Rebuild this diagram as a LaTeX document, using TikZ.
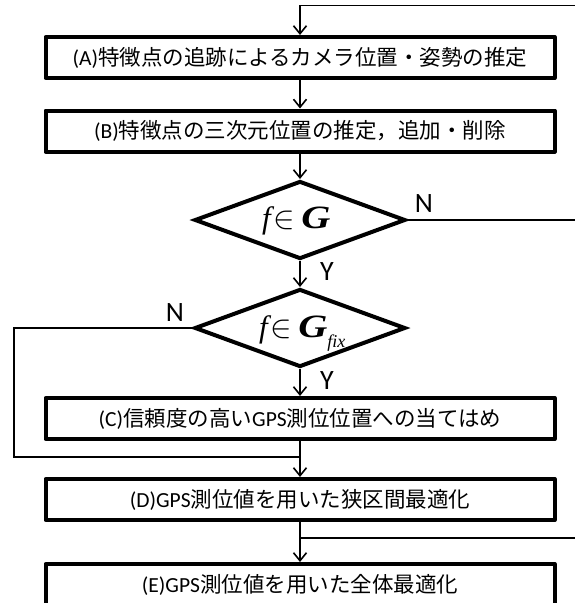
\documentclass[tikz,border=0pt]{standalone}
\usepackage{fontspec}
\usepackage{graphicx}
\setmainfont{Carlito}
\newfontfamily\jp{Noto Sans CJK JP}
\newfontfamily\tnr{Liberation Serif}
\usetikzlibrary{arrows.meta,shapes.geometric}
\newcommand{\la}[1]{{\rmfamily #1}}
\newcommand{\bigG}{\scalebox{1.3}[1.05]{\bfseries\itshape G}}
\newcommand{\bigIn}{\scalebox{1.3}{$\in$}}
\begin{document}
\begin{tikzpicture}[x=1pt,y=-1pt,
  box/.style={draw,line width=4pt,line join=round,minimum width=509pt,minimum height=41pt,inner sep=0pt,font=\jp\fontsize{21.5}{21.5}\selectfont},
  dia/.style={draw,diamond,line width=4pt,minimum width=211pt,minimum height=78pt,inner sep=0pt},
  conn/.style={line width=1.6pt},
  arr/.style={conn,-{Straight Barb[length=8pt,width=13pt]}},
  yn/.style={font=\fontsize{28}{28}\selectfont,inner sep=0pt},
  eq/.style={font=\tnr\fontsize{31}{31}\selectfont,inner sep=0pt,anchor=base west}]
\useasboundingbox (0,0) rectangle (575,603);
\clip (0,0) rectangle (575,603);
% boxes
\node[box] (A) at (300,57.5) {\la{(A)}特徴点の追跡によるカメラ位置・姿勢の推定};
\node[box] (B) at (300,131) {\la{(B)}特徴点の三次元位置の推定，追加・削除};
\node[box] (C) at (300,418.5) {\la{(C)}信頼度の高い\la{GPS}測位位置への当てはめ};
\node[box] (D) at (300,499.5) {\la{(D)GPS}測位値を用いた狭区間最適化};
\node[box] (E) at (300,584.5) {\la{(E)GPS}測位値を用いた全体最適化};
% decisions
\node[dia] (d1) at (300,220) {};
\node[dia] (d2) at (300,328) {};
\node[eq] (e1) at (262,228) {{\itshape f}\hspace{3pt}\bigIn\hspace{6pt}\bigG};
\node[eq] (e2) at (259,337) {{\itshape f}\hspace{3pt}\bigIn\hspace{6pt}\bigG\raisebox{-10pt}{\fontsize{18}{18}\selectfont\itshape fix}};
% labels
\node[yn] (n1) at (424,204) {N};
\node[yn] (y1) at (327,272) {Y};
\node[yn] (n2) at (175,313) {N};
\node[yn] (y2) at (327,381) {Y};
% free ends
\coordinate (top) at (575,5.5);
\coordinate (r1) at (575,220);
\coordinate (lb) at (14,457);
\coordinate (j1) at (300,457);
\coordinate (j2) at (300,538);
\coordinate (r2) at (575,538);
% connectors
\draw[arr] (top) -| (A.north);
\draw[arr] (A.south) -- (B.north);
\draw[arr] (B.south) -- (d1.north);
\draw[arr] (d1.south) -- (d2.north);
\draw[conn] (d1.east) -- (r1);
\draw[arr] (d2.south) -- (C.north);
\draw[conn] (d2.west) -| (lb) -- (j1);
\draw[arr] (C.south) -- (D.north);
\draw[arr] (D.south) -- (E.north);
\draw[conn] (j2) -- (r2);
\end{tikzpicture}
\end{document}
